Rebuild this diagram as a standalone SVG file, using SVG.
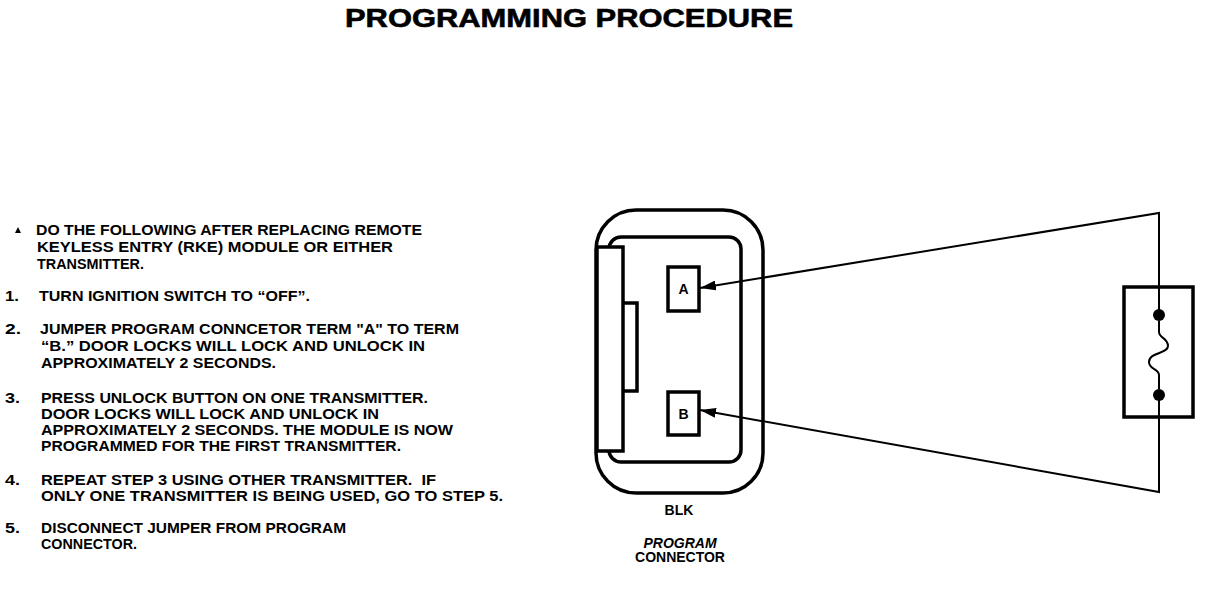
<svg xmlns="http://www.w3.org/2000/svg" width="1216" height="590" viewBox="0 0 1216 590">
<style>
.t{font-family:"Liberation Sans",Arial,sans-serif;font-weight:bold;font-size:14.5px;fill:#000}
.ttl{font-family:"Liberation Sans",Arial,sans-serif;font-weight:bold;font-size:26px;fill:#000}
.s{fill:none;stroke:#000;stroke-width:3.5}
.w{fill:none;stroke:#000;stroke-width:2}
.lbl{font-family:"Liberation Sans",Arial,sans-serif;font-weight:bold;font-size:14px;fill:#000;text-anchor:middle}
</style>
<defs>
<marker id="ah" markerWidth="16" markerHeight="10" refX="16" refY="5" orient="auto" markerUnits="userSpaceOnUse">
<path d="M0,0 L16,5 L0,10 Z" fill="#000"/>
</marker>
</defs>
<rect width="1216" height="590" fill="#fff"/>
<text class="ttl" x="345" y="27" textLength="448" lengthAdjust="spacingAndGlyphs" stroke="#000" stroke-width="0.6">PROGRAMMING PROCEDURE</text>
<g id="instructions">
<path d="M15,233 L21,233 L18,227 Z" fill="#000"/>
<text class="t" x="36" y="235" textLength="386" lengthAdjust="spacingAndGlyphs">DO THE FOLLOWING AFTER REPLACING REMOTE</text>
<text class="t" x="37" y="252" textLength="356" lengthAdjust="spacingAndGlyphs">KEYLESS ENTRY (RKE) MODULE OR EITHER</text>
<text class="t" x="37" y="269" textLength="107" lengthAdjust="spacingAndGlyphs">TRANSMITTER.</text>
<text class="t" x="5" y="301" textLength="14" lengthAdjust="spacingAndGlyphs">1.</text>
<text class="t" x="39" y="301" textLength="271" lengthAdjust="spacingAndGlyphs">TURN IGNITION SWITCH TO “OFF”.</text>
<text class="t" x="5" y="334" textLength="16" lengthAdjust="spacingAndGlyphs">2.</text>
<text class="t" x="40" y="334" textLength="419" lengthAdjust="spacingAndGlyphs">JUMPER PROGRAM CONNCETOR TERM "A" TO TERM</text>
<text class="t" x="41" y="351" textLength="384" lengthAdjust="spacingAndGlyphs">“B.” DOOR LOCKS WILL LOCK AND UNLOCK IN</text>
<text class="t" x="41" y="368" textLength="235" lengthAdjust="spacingAndGlyphs">APPROXIMATELY 2 SECONDS.</text>
<text class="t" x="5" y="403" textLength="15" lengthAdjust="spacingAndGlyphs">3.</text>
<text class="t" x="41" y="403" textLength="387" lengthAdjust="spacingAndGlyphs">PRESS UNLOCK BUTTON ON ONE TRANSMITTER.</text>
<text class="t" x="41" y="419" textLength="338" lengthAdjust="spacingAndGlyphs">DOOR LOCKS WILL LOCK AND UNLOCK IN</text>
<text class="t" x="41" y="435" textLength="412" lengthAdjust="spacingAndGlyphs">APPROXIMATELY 2 SECONDS. THE MODULE IS NOW</text>
<text class="t" x="41" y="451" textLength="360" lengthAdjust="spacingAndGlyphs">PROGRAMMED FOR THE FIRST TRANSMITTER.</text>
<text class="t" x="5" y="485" textLength="15" lengthAdjust="spacingAndGlyphs">4.</text>
<text class="t" x="41" y="485" textLength="395" lengthAdjust="spacingAndGlyphs" xml:space="preserve">REPEAT STEP 3 USING OTHER TRANSMITTER.  IF</text>
<text class="t" x="41" y="501" textLength="462" lengthAdjust="spacingAndGlyphs">ONLY ONE TRANSMITTER IS BEING USED, GO TO STEP 5.</text>
<text class="t" x="5" y="533" textLength="15" lengthAdjust="spacingAndGlyphs">5.</text>
<text class="t" x="41" y="533" textLength="305" lengthAdjust="spacingAndGlyphs">DISCONNECT JUMPER FROM PROGRAM</text>
<text class="t" x="41" y="549" textLength="96" lengthAdjust="spacingAndGlyphs">CONNECTOR.</text>
</g>
<g id="program-connector">
<rect class="s" x="596" y="210" width="167" height="283" rx="40" ry="40"/>
<rect class="s" x="609" y="237" width="132" height="225" rx="12" ry="12"/>
<rect x="597" y="247" width="26" height="204" fill="#fff" stroke="#000" stroke-width="3.5"/>
<path class="s" d="M623,303 L637,303 L637,391 L623,391"/>
<text class="lbl" x="679" y="515">BLK</text>
<text class="lbl" x="680" y="548" font-style="italic">PROGRAM</text>
<text class="lbl" x="680" y="562">CONNECTOR</text>
</g>
<g id="terminal-a">
<rect class="s" x="668" y="267" width="31" height="44"/>
<text class="lbl" x="683.5" y="294" font-size="13">A</text>
</g>
<g id="terminal-b">
<rect class="s" x="668" y="392" width="31" height="43"/>
<text class="lbl" x="683.5" y="419" font-size="13">B</text>
</g>
<g id="jumper-fuse">
<rect class="s" x="1124" y="287" width="69" height="130"/>
<path class="w" d="M1159,287 L1159,315 M1159,395 L1159,417"/>
<circle cx="1159" cy="315" r="6" fill="#000"/>
<circle cx="1159" cy="395" r="6" fill="#000"/>
<path class="w" d="M1159,321 L1159,332 C1159,338 1168,338 1168,346 C1168,354 1149,352 1149,362 C1149,370 1159,368 1159,375 L1159,389"/>
</g>
<g id="connectors">
<path class="w" d="M1159,287 L1159,213 L700,288" marker-end="url(#ah)"/>
<path class="w" d="M1159,417 L1159,492 L700,410" marker-end="url(#ah)"/>
</g>
</svg>
